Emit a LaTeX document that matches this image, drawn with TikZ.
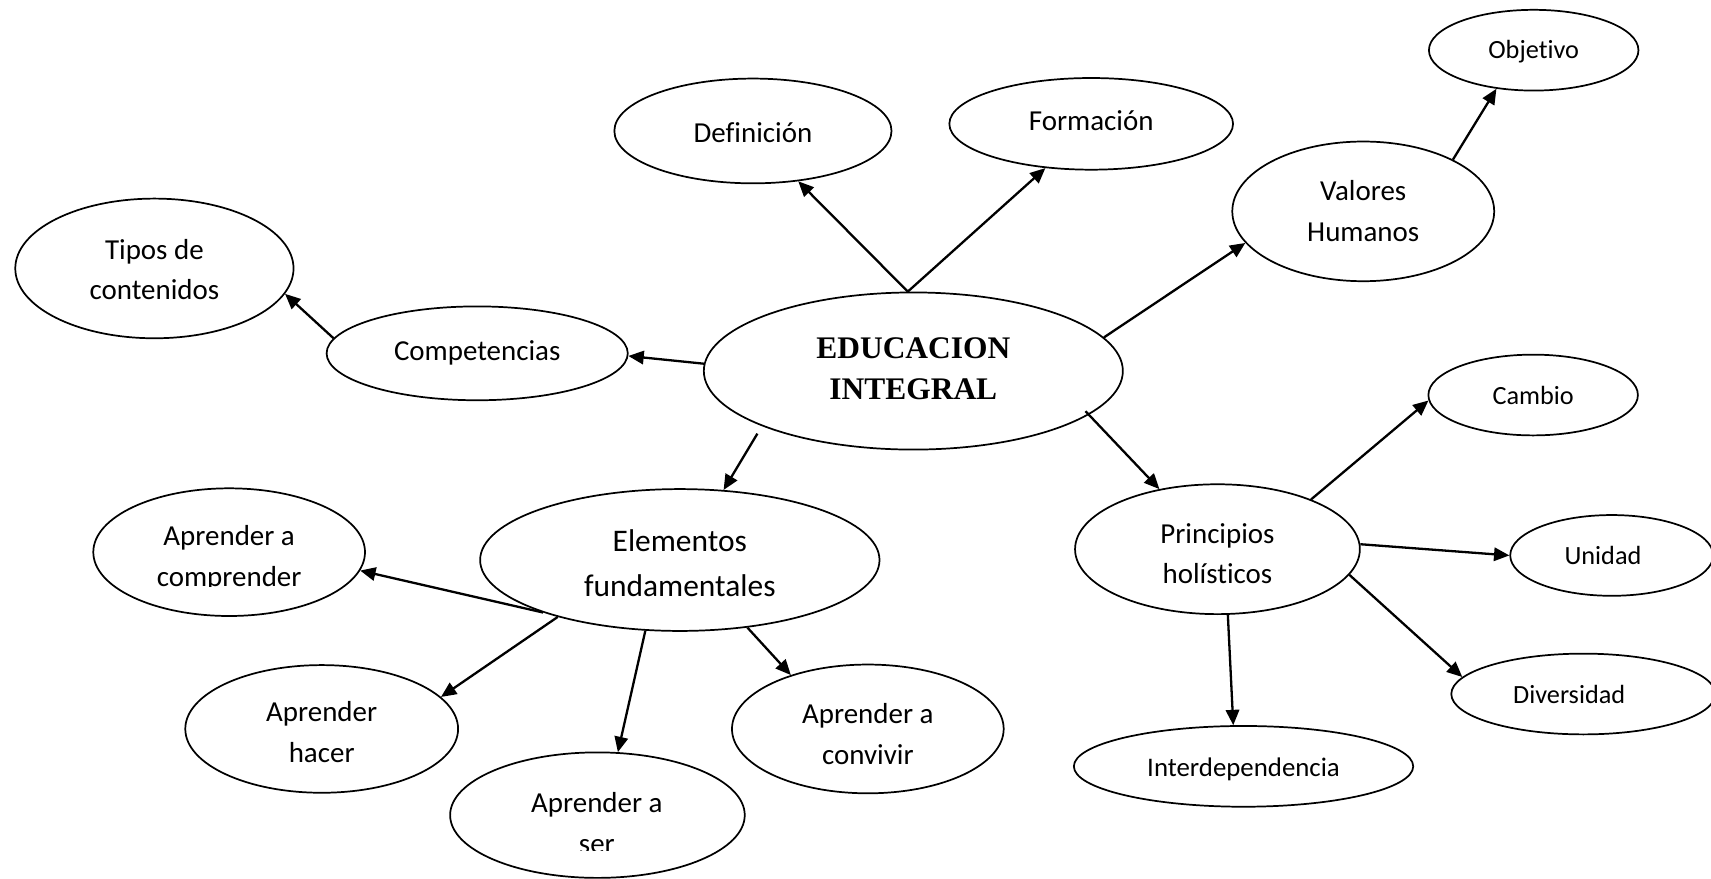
\documentclass[tikz,border=0pt]{standalone}
\usepackage{fontspec}
\setmainfont{Carlito}[Ligatures=NoCommon,RawFeature={-liga;-clig;-calt}]
\newfontfamily\timesfont{Liberation Serif}
\usetikzlibrary{shapes.geometric,arrows.meta}
\begin{document}
\begin{tikzpicture}[x=0.02cm,y=-0.02cm,
  sz/.style 2 args={minimum width=#1*0.02cm,minimum height=#2*0.02cm},
  ell/.style={draw,ellipse,line width=0.9pt,inner sep=0pt,align=center,font=\fontsize{15.1}{21.3}\selectfont},
  lbl/.style={inner sep=0pt,align=center,font=\fontsize{15.1}{21.3}\selectfont},
  biglbl/.style={inner sep=0pt,align=center,font=\fontsize{16.4}{23.2}\selectfont},
  smalllbl/.style={inner sep=0pt,align=center,font=\fontsize{13.7}{19}\selectfont},
  arr/.style={line width=1.2pt,-{Triangle[length=8pt,width=7pt]}},
]
\clip (0,0) rectangle (1568,805);

\node[ell,sz={254}{96},label={[lbl,yshift=-0.03cm]center:Definición}] (def) at (690,120) {};
\node[ell,sz={260}{84},label={[lbl,yshift=0.06cm]center:Formación}] (form) at (1000,113.5) {};
\node[ell,sz={192}{74},label={[smalllbl,yshift=-0.03cm]center:Objetivo}] (obj) at (1405.5,46) {};
\node[ell,sz={240}{128}] (val) at (1249.3,193.7) {Valores\\Humanos};
\node[ell,sz={255}{128},label={[lbl,yshift=-0.02cm]center:{Tipos de\\contenidos}}] (tipos) at (141.5,246) {};
\node[ell,sz={276}{86}] (comp) at (437.3,323.8) {Competencias};
\node[ell,sz={384}{144},label={[inner sep=0pt,align=center,font=\timesfont\bfseries\fontsize{16.4}{21.5}\selectfont,yshift=0.04cm]center:{EDUCACION\\INTEGRAL}}] (edu) at (837,340) {};
\node[ell,sz={192}{74},label={[smalllbl]center:Cambio}] (cam) at (1405,362) {};
\node[ell,sz={366}{130},label={[biglbl,yshift=-0.06cm]center:{Elementos\\fundamentales}}] (elem) at (623,513.2) {};
\node[ell,sz={249}{117}] (aprc) at (210,506) {};
\node[ell,sz={261}{119},label={[lbl,yshift=-0.08cm]center:{Principios\\holísticos}}] (princ) at (1115.7,503.3) {};
\node[ell,sz={186}{74},label={[smalllbl,xshift=-0.16cm]center:Unidad}] (uni) at (1477,509) {};
\node[ell,sz={242}{74},label={[smalllbl,xshift=-0.26cm]center:Diversidad}] (div) at (1451,636) {};
\node[ell,sz={250}{117},label={[lbl,yshift=-0.06cm]center:{Aprender\\hacer}}] (hacer) at (294.8,668) {};
\node[ell,sz={249}{118},label={[lbl,yshift=-0.1cm]center:{Aprender a\\convivir}}] (conv) at (795.3,668) {};
\node[ell,sz={270}{115}] (ser) at (547.5,747) {};
\node[ell,sz={311}{74},label={[font=\fontsize{14}{19}\selectfont,inner sep=0pt,yshift=-0.06cm]center:Interdependencia}] (inter) at (1139.6,702.3) {};

\begin{scope}
\clip (80,440) rectangle (340,537.5);
\node[lbl,text depth=0pt,anchor=south] (aprctxt) at (210,537.5) {Aprender a\\comprender};
\end{scope}
\begin{scope}
\clip (400,690) rectangle (700,779.5);
\node[lbl,text depth=0pt,anchor=south] (sertxt) at (547,782.5) {Aprender a\\ser};
\end{scope}

\draw[arr] (edu.94) -- (def.312);
\draw[arr] (edu.94) -- (form.224.4);
\draw[arr] (edu.10.2) -- (val.195.3);
\draw[arr] (val.30.5) -- (obj.226.6);
\draw[arr] (edu.178) -- (comp.359.4);
\draw[arr] (comp.174) -- (tipos.349.1);
\draw[arr,shorten <=0.16cm] (edu.200.5) -- (elem.58.6);
\draw[arr,shorten <=-0.09cm] (edu.346.4) -- (princ.134);
\draw[arr] (princ.28.6) -- (cam.183.6);
\draw[arr] (princ.2) -- (uni.180);
\draw[arr] (princ.349) -- (div.172.6);
\draw[arr] (princ.279.5) -- (inter.104.5);
\draw[arr] (elem.201.5) -- (aprc.352.6);
\draw[arr] (elem.205.6) -- (hacer.15.1);
\draw[arr] (elem.244.2) -- (ser.72.8);
\draw[arr] (elem.315.5) -- (conv.145);
\end{tikzpicture}
\end{document}
